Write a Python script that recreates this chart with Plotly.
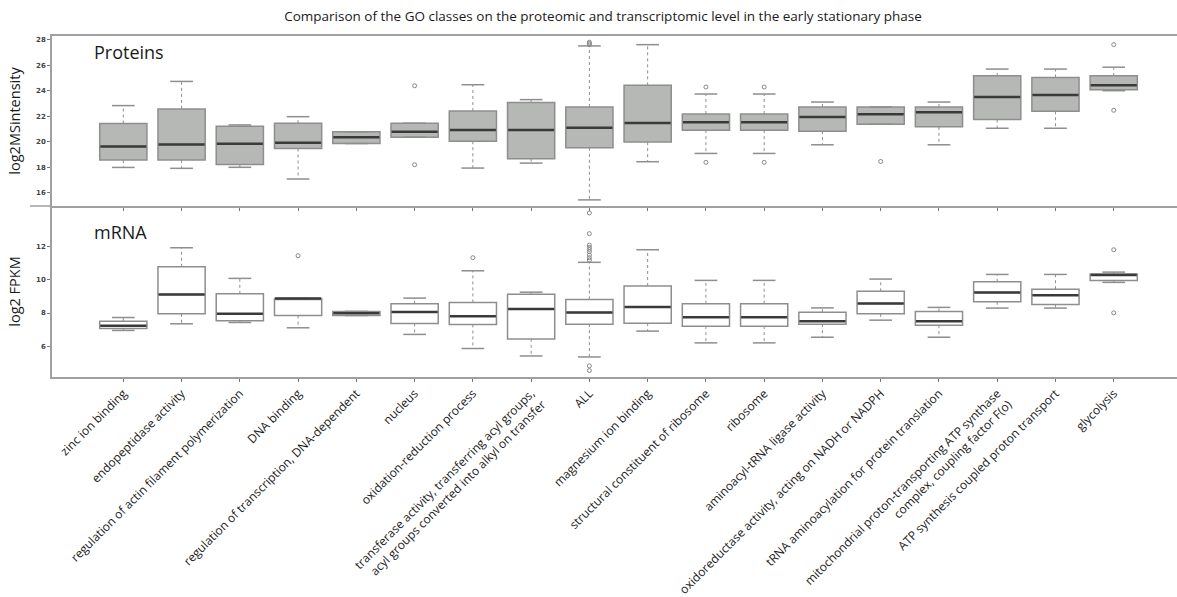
import plotly.graph_objects as go

# GO classes along the shared x axis
categories = [
    "zinc ion binding",
    "endopeptidase activity",
    "regulation of actin filament polymerization",
    "DNA binding",
    "regulation of transcription, DNA-dependent",
    "nucleus",
    "oxidation-reduction process",
    "transferase activity, transferring acyl groups,<br>acyl groups converted into alkyl on transfer",
    "ALL",
    "magnesium ion binding",
    "structural constituent of ribosome",
    "ribosome",
    "aminoacyl-tRNA ligase activity",
    "oxidoreductase activity, acting on NADH or NADPH",
    "tRNA aminoacylation for protein translation",
    "mitochondrial proton-transporting ATP synthase<br>complex, coupling factor F(o)",
    "ATP synthesis coupled proton transport",
    "glycolysis",
]

# Proteins: log2 MS intensity box statistics
prot_low = [17.98, 17.91, 17.99, 17.07, 19.86, 20.36, 17.93, 18.32, 15.43,
            18.43, 19.08, 19.08, 19.76, 21.38, 19.76, 21.06, 21.06, 24.01]
prot_q1 = [18.56, 18.56, 18.22, 19.47, 19.86, 20.36, 20.04, 18.66, 19.52,
           19.97, 20.91, 20.91, 20.83, 21.38, 21.17, 21.74, 22.39, 24.09]
prot_med = [19.63, 19.78, 19.84, 19.92, 20.36, 20.78, 20.93, 20.93, 21.09,
            21.48, 21.53, 21.53, 21.95, 22.16, 22.31, 23.51, 23.67, 24.43]
prot_q3 = [21.43, 22.58, 21.22, 21.45, 20.78, 21.45, 22.42, 23.09, 22.73,
           24.43, 22.18, 22.18, 22.73, 22.73, 22.73, 25.18, 25.05, 25.18]
prot_high = [22.84, 24.74, 21.32, 21.97, 20.78, 21.45, 24.48, 23.31, 27.53,
             27.63, 23.75, 23.75, 23.12, 22.73, 23.12, 25.71, 25.71, 25.86]
prot_out_idx = [5, 5, 8, 8, 8, 10, 10, 11, 11, 13, 17, 17]
prot_out_val = [24.40, 18.19, 27.62, 27.72, 27.82, 24.30, 18.38, 24.30, 18.38,
                18.45, 27.63, 22.47]

# mRNA: log2 FPKM box statistics
rna_low = [6.95, 7.35, 7.43, 7.11, 7.85, 6.71, 5.86, 5.41, 5.35,
           6.91, 6.20, 6.20, 6.54, 7.57, 6.54, 8.30, 8.30, 9.85]
rna_q1 = [7.07, 7.95, 7.53, 7.85, 7.85, 7.37, 7.31, 6.44, 7.33,
          7.39, 7.21, 7.21, 7.33, 7.95, 7.27, 8.68, 8.52, 9.97]
rna_med = [7.23, 9.12, 7.95, 8.88, 7.99, 8.07, 7.81, 8.24, 8.04,
           8.36, 7.75, 7.75, 7.51, 8.58, 7.51, 9.24, 9.08, 10.29]
rna_q3 = [7.51, 10.79, 9.16, 8.88, 8.10, 8.56, 8.64, 9.14, 8.82,
          9.63, 8.56, 8.56, 8.05, 9.31, 8.10, 9.89, 9.44, 10.35]
rna_high = [7.73, 11.94, 10.09, 8.88, 8.10, 8.90, 10.55, 9.26, 11.06,
            11.82, 9.97, 9.97, 8.31, 10.05, 8.34, 10.33, 10.33, 10.47]
rna_out_idx = [3, 6, 8, 8, 8, 8, 8, 8, 8, 8, 8, 8, 8, 17, 17]
rna_out_val = [11.46, 11.34, 14.04, 12.79, 12.10, 11.96, 11.84, 11.70, 11.50,
               11.34, 11.20, 4.81, 4.53, 11.82, 8.01]

prot_ticks = [16, 18, 20, 22, 24, 26, 28]
rna_ticks = [6, 8, 10, 12]

FONT = "Open Sans"
EDGE = "#8e8e8e"
MEDIAN = "#3a3a3a"
BOX_W = 0.81
CAP_HALF = 0.195

pos = list(range(len(categories)))


def panel(fig, xa, ya, low, q1, med, q3, high, out_idx, out_val, fill):
    fig.add_trace(go.Box(
        x=pos, q1=q1, median=med, q3=q3, lowerfence=q1, upperfence=q3,
        width=BOX_W, fillcolor=fill, line=dict(color=EDGE, width=1.5),
        xaxis=xa, yaxis=ya, hoverinfo="skip", showlegend=False,
    ))
    # dotted whiskers
    wx, wy = [], []
    for i in pos:
        wx += [i, i, None, i, i, None]
        wy += [q3[i], high[i], None, q1[i], low[i], None]
    fig.add_trace(go.Scatter(
        x=wx, y=wy, mode="lines", line=dict(color=EDGE, width=1, dash="dot"),
        xaxis=xa, yaxis=ya, hoverinfo="skip", showlegend=False,
    ))
    # whisker caps
    cx, cy = [], []
    for i in pos:
        cx += [i - CAP_HALF, i + CAP_HALF, None, i - CAP_HALF, i + CAP_HALF, None]
        cy += [high[i], high[i], None, low[i], low[i], None]
    fig.add_trace(go.Scatter(
        x=cx, y=cy, mode="lines", line=dict(color=EDGE, width=1.5),
        xaxis=xa, yaxis=ya, hoverinfo="skip", showlegend=False,
    ))
    # medians
    mx, my = [], []
    for i in pos:
        mx += [i - BOX_W / 2 + 0.01, i + BOX_W / 2 - 0.01, None]
        my += [med[i], med[i], None]
    fig.add_trace(go.Scatter(
        x=mx, y=my, mode="lines", line=dict(color=MEDIAN, width=2.5),
        xaxis=xa, yaxis=ya, hoverinfo="skip", showlegend=False,
    ))
    # outliers
    fig.add_trace(go.Scatter(
        x=out_idx, y=out_val, mode="markers",
        marker=dict(symbol="circle-open", size=4, color="#888888",
                    line=dict(width=1, color="#888888")),
        xaxis=xa, yaxis=ya, hoverinfo="skip", showlegend=False,
    ))


fig = go.Figure()
panel(fig, "x2", "y2", prot_low, prot_q1, prot_med, prot_q3, prot_high,
      prot_out_idx, prot_out_val, "#b5b8b4")
panel(fig, "x", "y", rna_low, rna_q1, rna_med, rna_q3, rna_high,
      rna_out_idx, rna_out_val, "#ffffff")

SPLIT = 0.5015
XR = [-1.224, 18.086]
axis_line = dict(showline=True, linecolor="#a0a0a0", linewidth=1.5,
                 showgrid=False, zeroline=False, ticks="outside", ticklen=3,
                 tickcolor="#777777", tickwidth=1, automargin=False)
tickfont_small = dict(family="DejaVu Sans", size=7, color="#444444", weight="bold")

fig.update_layout(
    width=1177, height=597,
    margin=dict(l=52, r=0, t=36, b=220),
    plot_bgcolor="white", paper_bgcolor="white",
    font=dict(family=FONT, color="#1a1a1a"),
    title=dict(
        text="Comparison of the GO classes on the proteomic and transcriptomic level in the early stationary phase",
        x=0.5123, xref="container", xanchor="center",
        y=0.973, yref="container", yanchor="middle",
        font=dict(family=FONT, size=13.5, color="#1a1a1a"),
    ),
    xaxis=dict(**axis_line, domain=[0, 1], anchor="y", range=XR,
               tickmode="array", tickvals=pos, ticktext=categories,
               tickangle=-45, tickfont=dict(family=FONT, size=12, color="#1a1a1a")),
    xaxis2=dict(**axis_line, domain=[0, 1], anchor="y2", matches="x",
                range=XR, tickmode="array", tickvals=pos,
                showticklabels=False, mirror=True),
    yaxis=dict(**axis_line, domain=[0, SPLIT], range=[4.14, 14.46],
               tickmode="array", tickvals=rna_ticks, tickfont=tickfont_small,
               title=dict(text="log2 FPKM", font=dict(family=FONT, size=14.5),
                          standoff=12)),
    yaxis2=dict(**axis_line, domain=[SPLIT, 1], range=[14.95, 28.31],
                tickmode="array", tickvals=prot_ticks, tickfont=tickfont_small,
                title=dict(text="log2MSintensity", font=dict(family=FONT, size=14.5),
                           standoff=12)),
    shapes=[dict(type="line", xref="paper", yref="paper", x0=-0.0196, x1=0,
                 y0=SPLIT, y1=SPLIT, line=dict(color="#a0a0a0", width=1.5))],
    annotations=[
        dict(text="Proteins", xref="paper", yref="paper", x=0.0356, y=0.953,
             xanchor="left", yanchor="middle", showarrow=False,
             font=dict(family=FONT, size=18, color="#1a1a1a")),
        dict(text="mRNA", xref="paper", yref="paper", x=0.0356, y=0.425,
             xanchor="left", yanchor="middle", showarrow=False,
             font=dict(family=FONT, size=18, color="#1a1a1a")),
    ],
)

fig.write_html("out.html")
